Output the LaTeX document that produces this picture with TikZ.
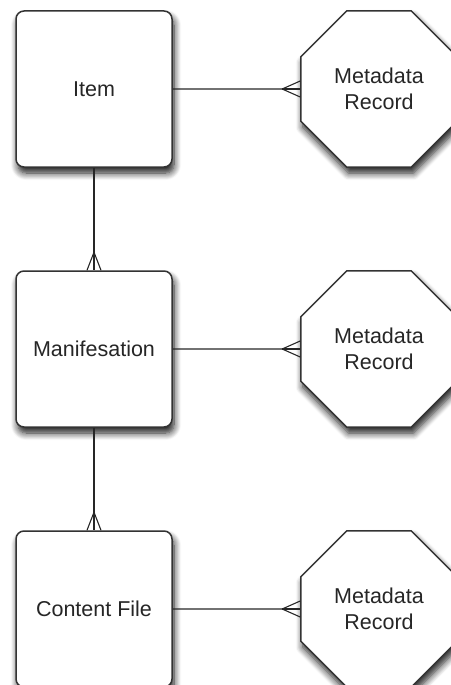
\documentclass[tikz,border=0pt]{standalone}
\usepackage{fontspec}
\setmainfont{Liberation Sans}
\usetikzlibrary{shapes.geometric,shadows.blur}
\tikzset{
  entity/.style={draw=black!80,line width=1.5pt,fill=white,rounded corners=8pt,
    minimum width=156pt,minimum height=156pt,
    blur shadow={shadow xshift=2pt,shadow yshift=-6pt,shadow blur radius=7pt,shadow blur steps=8,shadow opacity=90}},
  record/.style={draw=black!80,line width=1.5pt,fill=white,regular polygon,regular polygon sides=8,
    minimum size=169pt,inner sep=0pt,align=center,
    blur shadow={shadow xshift=2pt,shadow yshift=-6pt,shadow blur radius=7pt,shadow blur steps=8,shadow opacity=90}},
  link/.style={draw=black!85,line width=1.1pt}
}
\begin{document}
\begin{tikzpicture}[x=1pt,y=-1pt,font=\fontsize{21.5}{26}\selectfont,text=black!85]
	\useasboundingbox (0,0) rectangle (450,685);
	% entities
	\node[entity] (item) at (94,89) {Item};
	\node[entity] (manif) at (94,349) {Manifesation};
	\node[entity] (file) at (94,609) {Content File};
	% metadata records
	\node[record] (rec1) at (379,89) {Metadata\\Record};
	\node[record] (rec2) at (379,349) {Metadata\\Record};
	\node[record] (rec3) at (379,609) {Metadata\\Record};
	% one to many, down the chain
	\foreach \a/\b in {item/manif, manif/file} {
		\draw[link] (\a) -- (\b);
		\foreach \d in {-7,0,7}
			\draw[link] ([yshift=18pt]\b.north) -- ([xshift=\d pt]\b.north);
	}
	% one to many, to the records
	\foreach \a/\b in {item/rec1, manif/rec2, file/rec3} {
		\draw[link] (\a) -- (\b);
		\foreach \d in {-8,0,8}
			\draw[link] ([xshift=-18pt]\b.west) -- ([yshift=\d pt]\b.west);
	}
\end{tikzpicture}
\end{document}
